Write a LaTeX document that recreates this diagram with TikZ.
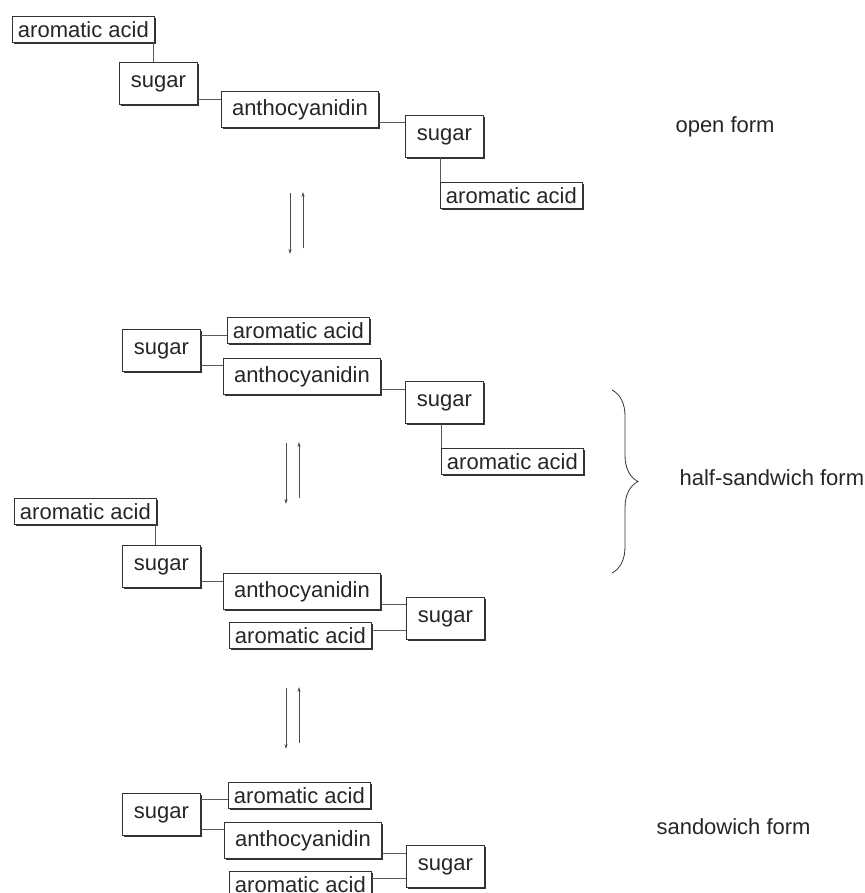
\documentclass[tikz,border=0pt]{standalone}
\usepackage{fontspec}
\setmainfont{Liberation Sans}
\usetikzlibrary{arrows.meta,shadows,decorations.pathreplacing}
\tikzset{
  unit/.style={draw=black!80, line width=0.8pt, fill=white, inner sep=0pt,
    anchor=north west, text=black!85, font=\fontsize{22}{26}\selectfont,
    drop shadow={shadow xshift=1.3pt, shadow yshift=-1.3pt, opacity=1, fill=black!80}},
  acid/.style={unit, minimum width=142pt, minimum height=26pt},
  sugarbox/.style={unit, minimum width=78pt, minimum height=42pt},
  anthobox/.style={unit, minimum width=157pt, minimum height=36pt},
  link/.style={draw=black!65, line width=0.8pt},
  eqarrow/.style={draw=black!70, line width=0.7pt, -{Stealth[length=5pt,width=3.2pt]}},
  caption/.style={anchor=west, text=black!85, font=\fontsize{22}{26}\selectfont},
}
\begin{document}
\begin{tikzpicture}[x=1pt,y=-1pt]
  \useasboundingbox (0,0) rectangle (864,893);
  %% open form
  \node[acid]     (aa1) at (12,16)   {aromatic acid};
  \node[sugarbox] (su1) at (119,62)  {sugar};
  \node[anthobox] (an1) at (221,91)  {anthocyanidin};
  \node[sugarbox] (su2) at (405,115) {sugar};
  \node[acid]     (aa2) at (440,182) {aromatic acid};
  \draw[link] ([xshift=-1pt]aa1.south east) -- ([xshift=-1pt]aa1.south east |- su1.north);
  \draw[link] ([yshift=5pt]su1.south east) -- ([yshift=5pt]su1.south east -| an1.west);
  \draw[link] ([yshift=5pt]an1.south east) -- ([yshift=5pt]an1.south east -| su2.west);
  \draw[link] (aa2.north west) -- (aa2.north west |- su2.south);
  \node[caption] (open) at (672,127) {open form};
  %% half-sandwich form, upper
  \node[sugarbox] (su3) at (122,329) {sugar};
  \node[acid]     (aa3) at (227,317) {aromatic acid};
  \node[anthobox] (an2) at (223,358) {anthocyanidin};
  \node[sugarbox] (su4) at (405,381) {sugar};
  \node[acid]     (aa4) at (441,448) {aromatic acid};
  \draw[link] ([yshift=-5pt]aa3.west) -- ([yshift=-5pt]aa3.west -| su3.east);
  \draw[link] ([yshift=6pt]su3.south east) -- ([yshift=6pt]su3.south east -| an2.west);
  \draw[link] ([yshift=5pt]an2.south east) -- ([yshift=5pt]an2.south east -| su4.west);
  \draw[link] (aa4.north west) -- (aa4.north west |- su4.south);
  %% half-sandwich form, lower
  \node[acid]     (aa5) at (14,498)  {aromatic acid};
  \node[sugarbox] (su5) at (122,545) {sugar};
  \node[anthobox] (an3) at (223,573) {anthocyanidin};
  \node[sugarbox] (su6) at (406,597) {sugar};
  \node[acid]     (aa6) at (229,622) {aromatic acid};
  \draw[link] ([xshift=-1pt]aa5.south east) -- ([xshift=-1pt]aa5.south east |- su5.north);
  \draw[link] ([yshift=6pt]su5.south east) -- ([yshift=6pt]su5.south east -| an3.west);
  \draw[link] ([yshift=5pt]an3.south east) -- ([yshift=5pt]an3.south east -| su6.west);
  \draw[link] ([yshift=5pt]aa6.east) -- ([yshift=5pt]aa6.east -| su6.west);
  \draw[draw=black!80, line width=0.8pt, decorate, decoration={brace, amplitude=26pt}]
    (612,390) -- (612,573);
  \node[caption] (half) at (676,478) {half-sandwich form};
  %% sandwich form
  \node[sugarbox] (su7) at (122,793) {sugar};
  \node[acid]     (aa7) at (228,782) {aromatic acid};
  \node[anthobox] (an4) at (224,822) {anthocyanidin};
  \node[sugarbox] (su8) at (406,845) {sugar};
  \node[acid]     (aa8) at (229,871) {aromatic acid};
  \draw[link] ([yshift=-4pt]aa7.west) -- ([yshift=-4pt]aa7.west -| su7.east);
  \draw[link] ([yshift=6pt]su7.south east) -- ([yshift=6pt]su7.south east -| an4.west);
  \draw[link] ([yshift=5pt]an4.south east) -- ([yshift=5pt]an4.south east -| su8.west);
  \draw[link] ([yshift=6pt]aa8.east) -- ([yshift=6pt]aa8.east -| su8.west);
  \node[caption] (sand) at (653,827) {sandowich form};
  %% equilibrium arrows
  \foreach \x/\y in {290/193, 286/443, 286/688} {
    \draw[eqarrow] (\x,\y) -- ++(0,61);
    \draw[eqarrow] (\x+13,\y+55) -- ++(0,-56);
  }
\end{tikzpicture}
\end{document}
